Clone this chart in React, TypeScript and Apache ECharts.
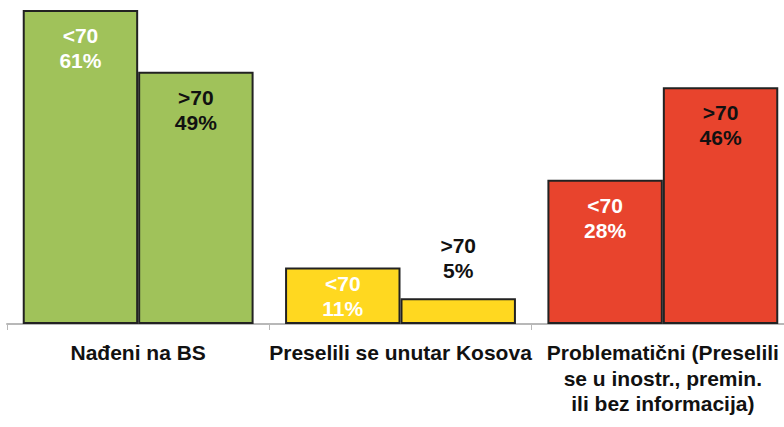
import React, { useEffect, useRef } from "react";
import * as echarts from "echarts";

const categories = [
  "Nađeni na BS",
  "Preselili se unutar Kosova",
  "Problematični (Preselili\nse u inostr., premin.\nili bez informacija)",
];
const seriesNames = ["<70", ">70"];
const under70 = [61, 11, 28];
const over70 = [49, 5, 46];
const barColors = ["#A0C25A", "#FFD820", "#E8442D"];
const outsideLabelIndex = [1]; // >70 label drawn above the short bar
const tightLabelIndex = [1]; // <70 label close to top of short bar

export default function App() {
  const ref = useRef<HTMLDivElement>(null);
  useEffect(() => {
    if (!ref.current) return;
    const chart = echarts.init(ref.current, undefined, { renderer: "svg" });
    const font = "'Liberation Sans', Arial, sans-serif";
    const mkData = (vals: number[], color: string, outside: number[], tight: number[]) =>
      vals.map((v, i) => ({
        value: v,
        itemStyle: { color: barColors[i] },
        label: outside.includes(i)
          ? { position: "top", distance: 15, color: "#111" }
          : { position: "insideTop", distance: tight.includes(i) ? 4 : 13, color },
      }));
    const labelBase = {
      show: true,
      fontFamily: font,
      fontWeight: "bold",
      fontSize: 21,
      lineHeight: 25,
      align: "center",
    };
    chart.setOption({
      animation: false,
      backgroundColor: "#ffffff",
      grid: {
        left: 7,
        top: 10,
        width: 787,
        height: 314,
        containLabel: false,
        outerBoundsMode: "none",
      },
      xAxis: {
        type: "category",
        data: categories,
        axisLine: { lineStyle: { color: "#b8b8b8", width: 2 } },
        axisTick: { show: true, length: 6, lineStyle: { color: "#b8b8b8", width: 1 } },
        axisLabel: {
          interval: 0,
          margin: 16,
          fontFamily: font,
          fontWeight: "bold",
          fontSize: 21,
          lineHeight: 25.5,
          color: "#111",
        },
      },
      yAxis: {
        type: "value",
        min: 0,
        max: 61,
        show: false,
        splitLine: { show: false },
      },
      series: [
        {
          name: seriesNames[0],
          type: "bar",
          barGap: "0%",
          barCategoryGap: "12%",
          data: mkData(under70, "#ffffff", [], tightLabelIndex),
          itemStyle: { borderColor: "#222", borderWidth: 2 },
          label: {
            ...labelBase,
            formatter: (p: any) => `${seriesNames[0]}\n${p.value}%`,
          },
        },
        {
          name: seriesNames[1],
          type: "bar",
          barGap: "0%",
          barCategoryGap: "12%",
          data: mkData(over70, "#111111", outsideLabelIndex, []),
          itemStyle: { borderColor: "#222", borderWidth: 2 },
          label: {
            ...labelBase,
            formatter: (p: any) => `${seriesNames[1]}\n${p.value}%`,
          },
        },
      ],
    });
    return () => chart.dispose();
  }, []);
  return (
    <div
      ref={ref}
      style={{ position: "fixed", left: 0, top: 0, width: 784, height: 427, background: "#fff" }}
    />
  );
}
